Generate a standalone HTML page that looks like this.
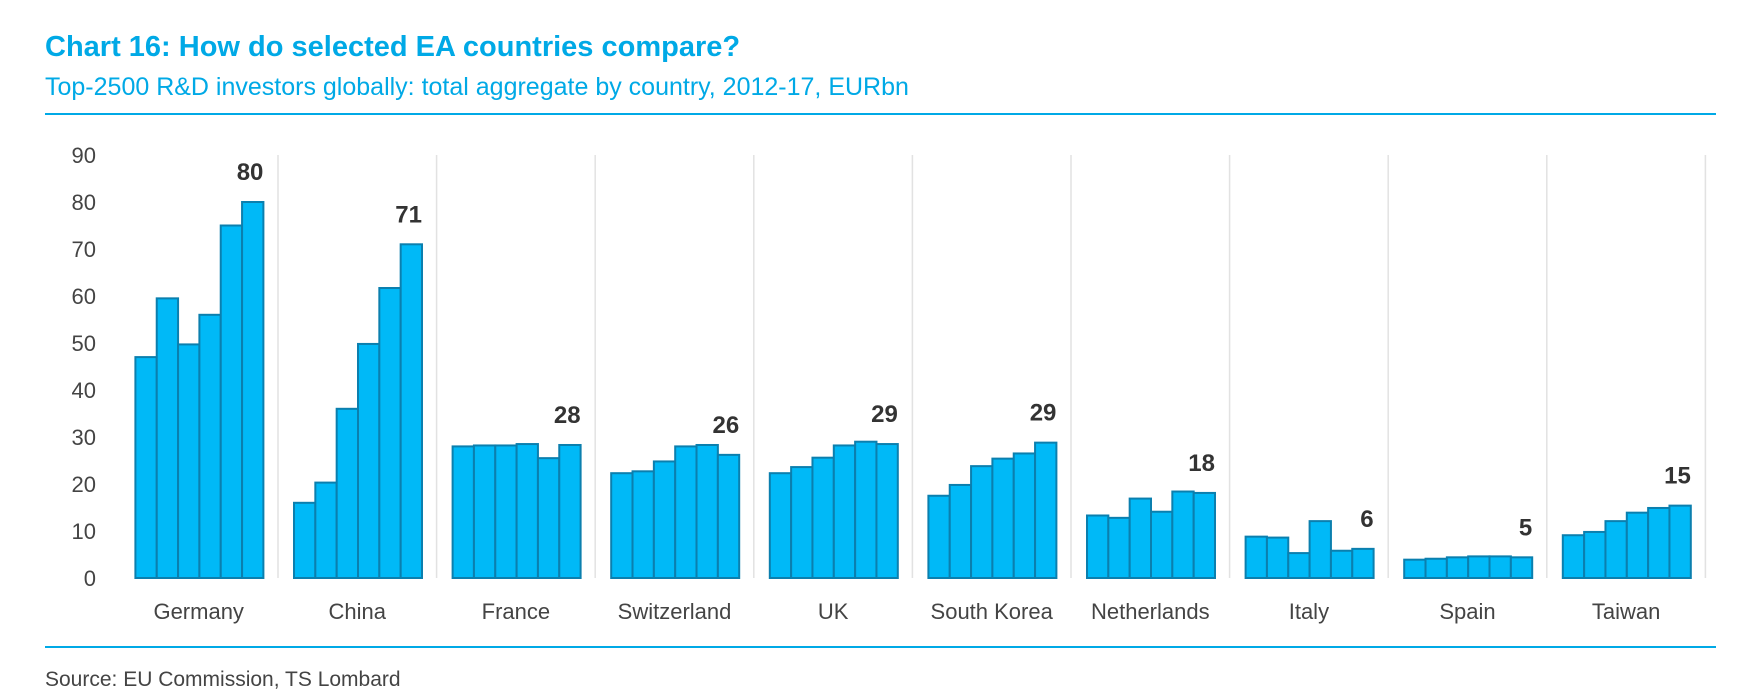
<!DOCTYPE html>
<html><head><meta charset="utf-8"><style>
body{margin:0;background:#fff;width:1761px;height:695px;overflow:hidden;font-family:"Liberation Sans",sans-serif}
</style></head><body>
<svg width="1761" height="695">
<text x="45" y="56" font-size="29" font-weight="bold" fill="#00a9e6">Chart 16: How do selected EA countries compare?</text>
<text x="45" y="95" font-size="25" fill="#00a9e6">Top-2500 R&amp;D investors globally: total aggregate by country, 2012-17, EURbn</text>
<line x1="45" y1="114" x2="1716" y2="114" stroke="#00a9e6" stroke-width="2"/>
<line x1="45" y1="647" x2="1716" y2="647" stroke="#00a9e6" stroke-width="2"/>
<text x="45" y="686" font-size="21" fill="#444">Source: EU Commission, TS Lombard</text>
<g id="plot"></g>
</svg>
<script>
const categories=["Germany","China","France","Switzerland","UK","South Korea","Netherlands","Italy","Spain","Taiwan"];
const germany=[47,59.5,49.7,56,75,80];
const china=[16,20.3,36,49.8,61.7,71];
const france=[28,28.2,28.2,28.5,25.5,28.3];
const switzerland=[22.3,22.7,24.8,28,28.3,26.2];
const uk=[22.3,23.6,25.6,28.2,29,28.5];
const southKorea=[17.5,19.8,23.8,25.4,26.5,28.8];
const netherlands=[13.3,12.8,16.9,14.1,18.4,18.1];
const italy=[8.8,8.6,5.3,12.1,5.8,6.2];
const spain=[3.9,4.1,4.4,4.6,4.6,4.4];
const taiwan=[9.1,9.8,12.1,13.9,14.9,15.4];
const endLabels=["80","71","28","26","29","29","18","6","5","15"];
const yTicks=[0,10,20,30,40,50,60,70,80,90];
const series=[germany,china,france,switzerland,uk,southKorea,netherlands,italy,spain,taiwan];
const NS="http://www.w3.org/2000/svg";
const g=document.getElementById('plot');
const x0=119.4,gw=158.6,y0=578,k=4.7;
const y=v=>y0-v*k;
function mk(t,a){const e=document.createElementNS(NS,t);for(const n in a)e.setAttribute(n,a[n]);g.appendChild(e);return e;}
yTicks.forEach(t=>{const e=mk('text',{x:96,y:y(t)+8,'font-size':22,fill:'#444','text-anchor':'end'});e.textContent=t;

});
for(let i=1;i<=10;i++){const l=mk('line',{x1:x0+i*gw,x2:x0+i*gw,y1:155,y2:578,stroke:'#e2e2e2','stroke-width':1.5});

}
const bw=128/6;
categories.forEach((c,i)=>{
 const gx=x0+i*gw+16;
 series[i].forEach((v,j)=>{const r=mk('rect',{x:gx+j*bw,y:y(v),width:bw,height:v*k,fill:'#00b9f7',stroke:'#0b7fae','stroke-width':2});
 
 });
 const last=series[i][5];
 const lb=mk('text',{x:gx+128,y:y(last)-22,'font-size':24,'font-weight':'bold',fill:'#333','text-anchor':'end'});lb.textContent=endLabels[i];
 
 
 const cl=mk('text',{x:x0+i*gw+gw/2,y:619,'font-size':22,fill:'#444','text-anchor':'middle'});cl.textContent=c;
 
 
});
</script>
</body></html>
